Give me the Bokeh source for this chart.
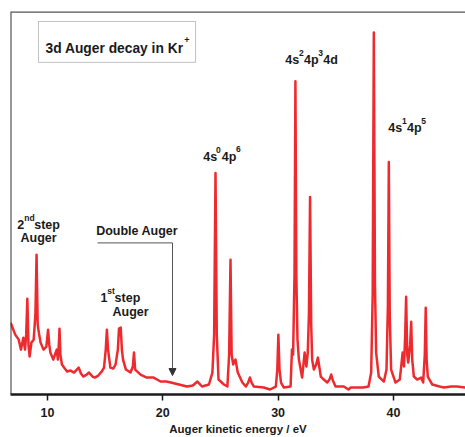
from bokeh.plotting import figure
from bokeh.models import Label, Span, Arrow, NormalHead, BoxAnnotation, FixedTicker, Range1d
from bokeh.embed import file_html
from bokeh.resources import INLINE

# ---- data (kinetic energy in eV, intensity in arb. units) ----
energy = [6.8, 7.0, 7.2, 7.5, 7.7, 7.9, 8.05, 8.15, 8.25, 8.35, 8.45, 8.6, 8.8, 8.95, 9.05,
          9.15, 9.25, 9.4, 9.65, 9.9, 10.05, 10.15, 10.25, 10.5, 10.7, 10.8, 10.9, 10.98, 11.04,
          11.12, 11.25, 11.5, 11.7, 12.0, 12.3, 12.7, 12.9, 13.1, 13.4, 13.6, 13.9, 14.1, 14.4,
          14.7, 14.9, 15.05, 15.15, 15.25, 15.45, 15.7, 15.9, 16.1, 16.2, 16.35, 16.45, 16.55,
          16.8, 17.2, 17.4, 17.5, 17.6, 18.07, 18.6, 19.2, 19.5, 19.8, 20.3, 20.7, 21.4, 22.1,
          22.6, 23.0, 23.4, 24.0, 24.3, 24.45, 24.57, 24.68, 24.83, 25.3, 25.6, 25.75, 25.87,
          25.97, 26.1, 26.3, 26.5, 26.9, 27.2, 27.4, 27.55, 27.7, 27.9, 28.75, 29.3, 29.8, 29.93,
          30.02, 30.12, 30.25, 30.5, 31.08, 31.2, 31.3, 31.42, 31.5, 31.58, 31.68, 31.8, 32.08,
          32.3, 32.45, 32.57, 32.67, 32.77, 32.87, 32.95, 33.1, 33.3, 33.45, 33.7, 33.96, 34.26,
          34.45, 34.6, 34.75, 34.98, 35.7, 36.1, 36.3, 37.4, 37.84, 38.07, 38.2, 38.3, 38.4, 38.5,
          38.73, 39.17, 39.4, 39.52, 39.6, 39.68, 39.8, 40.18, 40.55, 40.8, 40.92, 41.02, 41.1,
          41.2, 41.28, 41.45, 41.54, 41.63, 41.77, 42.06, 42.4, 42.58, 42.72, 42.8, 42.88, 42.98,
          43.37, 44.0, 44.37, 45.0, 45.5, 46.25]
intensity = [72, 66, 60, 55, 45, 57, 45, 60, 96, 50, 38, 52, 55, 80, 140,
             70, 62, 52, 45, 48, 65, 50, 42, 35, 42, 45, 35, 50, 66,
             40, 30, 26, 23, 24, 22, 27, 21, 18, 20, 22, 18, 17, 19,
             23, 27, 45, 65, 45, 27, 26, 30, 45, 66, 67, 45, 35,
             25, 22, 28, 42, 25, 20, 17, 17, 15, 13, 13, 12, 10, 8,
             9, 13, 8, 10, 22, 60, 222, 60, 15, 10, 8, 40, 135,
             40, 30, 35, 22, 12, 8, 12, 17, 12, 8, 7, 5, 8, 25,
             60, 25, 12, 7, 8, 45, 40, 120, 314, 120, 55, 35, 17,
             42, 28, 42, 80, 198, 70, 35, 25, 30, 37, 18, 15, 12,
             15, 20, 14, 8, 8, 5, 7, 7, 8, 22, 100, 363, 110, 42,
             18, 13, 25, 90, 233, 80, 25, 12, 15, 42, 28, 60, 98,
             40, 32, 50, 73, 35, 18, 15, 17, 12, 40, 87, 35, 18,
             10, 8, 7, 8, 8, 7]
x_ticks = [10, 20, 30, 40]
x_axis_title = "Auger kinetic energy / eV"
chart_title = "3d Auger decay in Kr"

FONT = "Liberation Sans"
RED = "#ee2a2f"
INK = "#1a1a1a"

p = figure(width=465, height=437, output_backend="svg", toolbar_location=None,
           x_range=Range1d(6.79, 46.25), y_range=Range1d(0, 384),
           y_axis_location=None, min_border_left=10, min_border_right=0,
           min_border_top=11, min_border_bottom=42,
           background_fill_color="white", border_fill_color="white")
p.outline_line_color = None
p.grid.visible = False

p.line(energy, intensity, line_color=RED, line_width=2.5, line_join="round")

ax = p.xaxis[0]
ax.ticker = FixedTicker(ticks=x_ticks)
ax.minor_tick_line_color = None
ax.major_tick_out = 6
ax.major_tick_in = 0
ax.major_tick_line_width = 1.5
ax.major_tick_line_color = INK
ax.axis_line_width = 2.5
ax.axis_line_color = INK
ax.major_label_text_font = FONT
ax.major_label_text_font_style = "bold"
ax.major_label_text_font_size = "12.5px"
ax.major_label_text_color = INK
ax.major_label_standoff = 7
ax.axis_label = x_axis_title
ax.axis_label_text_font = FONT
ax.axis_label_text_font_style = "bold"
ax.axis_label_text_font_size = "11.5px"
ax.axis_label_text_color = INK
ax.axis_label_standoff = 3

# frame lines (left and top)
p.add_layout(Span(location=6.79, dimension="height", line_color="#333333", line_width=2))
p.add_layout(Span(location=384, dimension="width", line_color="#555555", line_width=2.5))

# title box
p.add_layout(BoxAnnotation(left=9.22, right=22.84, bottom=333, top=374,
                           fill_color=None, line_color="#333333", line_width=1))


def lab(x, y, text, size="12.5px"):
    p.add_layout(Label(x=x, y=y, text=text, text_font=FONT, text_font_style="bold",
                       text_font_size=size, text_color=INK, text_baseline="alphabetic",
                       text_align="left"))


SUP = "8.5px"
lab(9.83, 347, chart_title, "13.8px")
lab(21.85, 355, "+", "9px")

lab(23.50, 238, "4s")
lab(24.62, 245, "0", SUP)
lab(25.12, 238, "4p")
lab(26.35, 246, "6", SUP)

lab(30.62, 335, "4s")
lab(31.80, 342, "2", SUP)
lab(32.24, 335, "4p")
lab(33.48, 342, "3", SUP)
lab(33.92, 335, "4d")

lab(39.55, 267, "4s")
lab(40.74, 274, "1", SUP)
lab(41.17, 267, "4p")
lab(42.42, 274, "5", SUP)

lab(7.38, 170, "2")
lab(7.98, 177, "nd", SUP)
lab(8.85, 170, "step")
lab(7.66, 157, "Auger")

lab(14.22, 164, "Double Auger")

lab(14.60, 97, "1")
lab(15.18, 104, "st", SUP)
lab(15.82, 97, "step")
lab(15.64, 83, "Auger")

# Double Auger pointer
p.add_layout(Arrow(x_start=14.34, y_start=152, x_end=20.84, y_end=152, end=None,
                   line_color="#555555", line_width=1))
p.add_layout(Arrow(x_start=20.84, y_start=152, x_end=20.84, y_end=19,
                   line_color="#555555", line_width=1,
                   end=NormalHead(size=7, fill_color="#333333", line_color="#333333")))

open("out.html", "w").write(file_html(p, INLINE))
